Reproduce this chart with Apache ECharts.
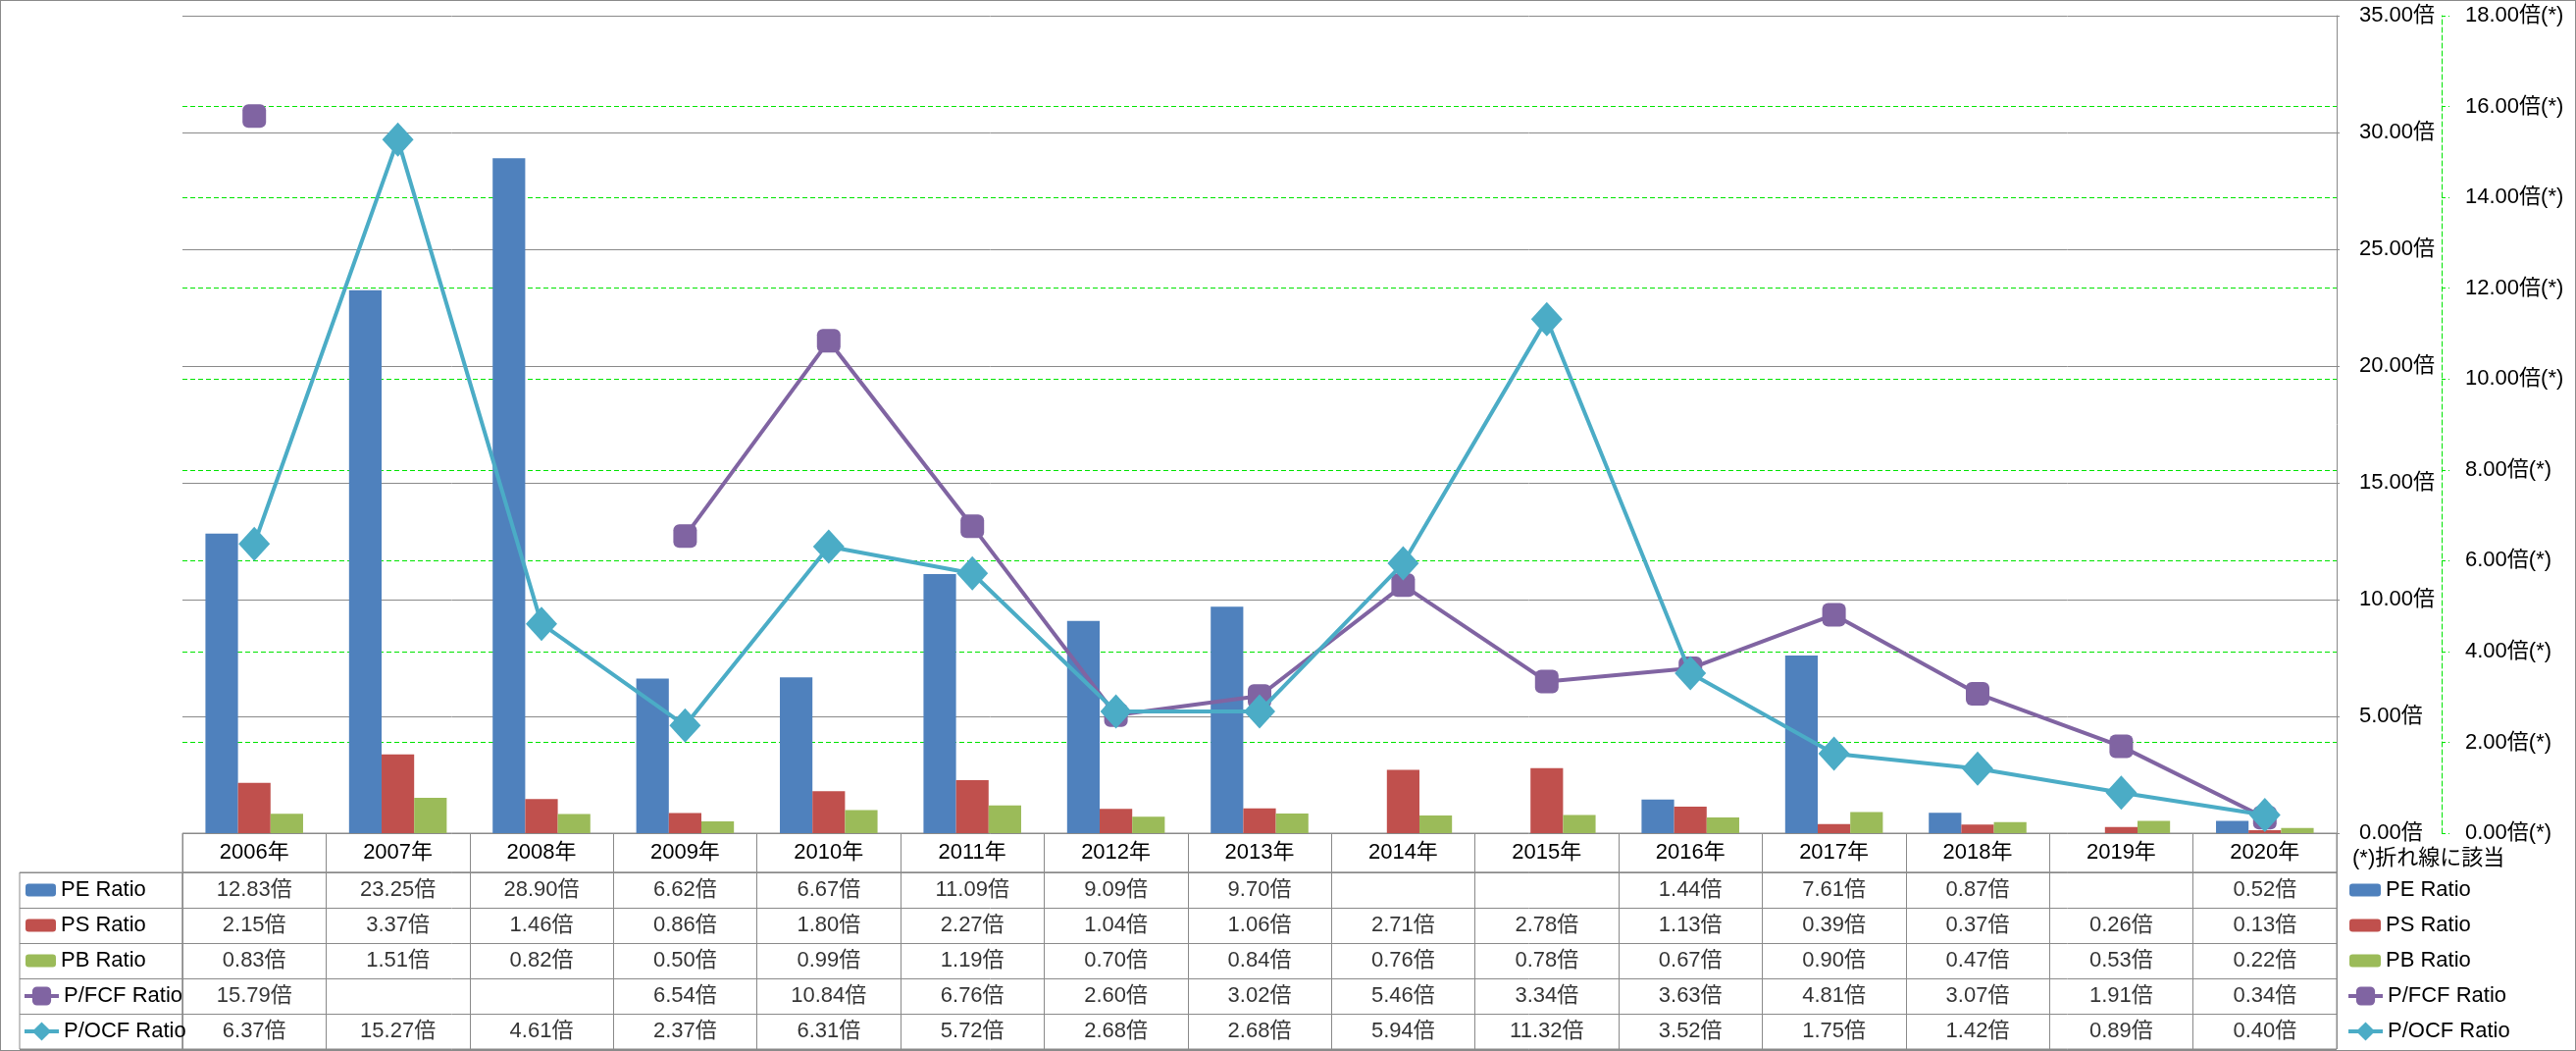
<!DOCTYPE html>
<html><head><meta charset="utf-8">
<script src="https://cdn.jsdelivr.net/npm/echarts@6/dist/echarts.min.js"></script>
<style>
html,body{margin:0;padding:0;background:#fff}
#c{width:2626px;height:1071px}
#frame{position:absolute;left:0;top:0;width:2624px;height:1069px;border:1px solid #8a8a8a;pointer-events:none}
</style>
</head><body><div id="c"></div><div id="frame"></div>
<script>
// ---- data ----
const years = ['2006年','2007年','2008年','2009年','2010年','2011年','2012年','2013年','2014年','2015年','2016年','2017年','2018年','2019年','2020年'];
const seriesNames = ['PE Ratio','PS Ratio','PB Ratio','P/FCF Ratio','P/OCF Ratio'];
const peRatio   = [12.83, 23.25, 28.90, 6.62, 6.67, 11.09, 9.09, 9.70, null, null, 1.44, 7.61, 0.87, null, 0.52];
const psRatio   = [2.15, 3.37, 1.46, 0.86, 1.80, 2.27, 1.04, 1.06, 2.71, 2.78, 1.13, 0.39, 0.37, 0.26, 0.13];
const pbRatio   = [0.83, 1.51, 0.82, 0.50, 0.99, 1.19, 0.70, 0.84, 0.76, 0.78, 0.67, 0.90, 0.47, 0.53, 0.22];
const pfcfRatio = [15.79, null, null, 6.54, 10.84, 6.76, 2.60, 3.02, 5.46, 3.34, 3.63, 4.81, 3.07, 1.91, 0.34];
const pocfRatio = [6.37, 15.27, 4.61, 2.37, 6.31, 5.72, 2.68, 2.68, 5.94, 11.32, 3.52, 1.75, 1.42, 0.89, 0.40];
const primaryAxis = {min: 0, max: 35, interval: 5, suffix: '倍'};
const secondaryAxis = {min: 0, max: 18, interval: 2, suffix: '倍(*)'};
const secondaryGridValues = [2, 4, 6, 8, 10, 12, 14, 16];
const noteText = '(*)折れ線に該当';

// ---- styles ----
const colors = ['#4F81BD', '#C0504D', '#9BBB59', '#8064A2', '#4BACC6'];
const FONT = '"Liberation Sans", "Noto Sans CJK JP", sans-serif';
const FS = 22;
const GRAY = '#8a8a8a';
const GREEN = '#00e400';
const rows = [peRatio, psRatio, pbRatio, pfcfRatio, pocfRatio];

const chart = echarts.init(document.getElementById('c'), null, {renderer: 'canvas'});

const series = [
  {name: 'secondaryGrid', type: 'line', xAxisIndex: 0, yAxisIndex: 1, data: [], z: 1, silent: true,
   markLine: {silent: true, z: 1, symbol: 'none', label: {show: false}, animation: false,
     lineStyle: {color: GREEN, type: [5, 3], width: 1},
     data: secondaryGridValues.map(v => ({yAxis: v}))}},
  {name: seriesNames[0], type: 'bar', xAxisIndex: 0, yAxisIndex: 0, data: peRatio, itemStyle: {color: colors[0]}, barGap: '0%', barCategoryGap: '32%'},
  {name: seriesNames[1], type: 'bar', xAxisIndex: 0, yAxisIndex: 0, data: psRatio, itemStyle: {color: colors[1]}},
  {name: seriesNames[2], type: 'bar', xAxisIndex: 0, yAxisIndex: 0, data: pbRatio, itemStyle: {color: colors[2]}},
  {name: seriesNames[3], type: 'line', xAxisIndex: 0, yAxisIndex: 1, data: pfcfRatio, symbol: 'roundRect', symbolSize: 24,
   itemStyle: {color: colors[3]}, lineStyle: {width: 4, color: colors[3]}, connectNulls: false, z: 5},
  {name: seriesNames[4], type: 'line', xAxisIndex: 0, yAxisIndex: 1, data: pocfRatio, symbol: 'diamond', symbolSize: [32, 35],
   itemStyle: {color: colors[4]}, lineStyle: {width: 4, color: colors[4]}, connectNulls: false, z: 6}
];
// table cells
rows.forEach((arr, r) => {
  const d = [];
  arr.forEach((v, i) => { if (v !== null) d.push([i, r, v]); });
  series.push({
    name: 'tbl' + r, type: 'scatter', xAxisIndex: 2, yAxisIndex: 3, data: d,
    symbolSize: 1, itemStyle: {color: 'rgba(0,0,0,0)'}, silent: true,
    label: {show: true, position: 'inside', color: '#000', fontSize: FS, fontFamily: FONT,
      formatter: p => p.value[2].toFixed(2) + '倍'}
  });
});

function legendOf(names, left, top, w, h, extra) {
  return Object.assign({
    orient: 'vertical', data: names, left: left, top: top, itemWidth: w, itemHeight: h, itemGap: 0, padding: 0,
    selectedMode: false, textStyle: {fontSize: FS, fontFamily: FONT, color: '#000', lineHeight: 36}
  }, extra || {});
}
const barNames = seriesNames.slice(0, 3), lineNames = seriesNames.slice(3);

const option = {
  animation: false,
  textStyle: {fontFamily: FONT},
  title: {text: noteText, left: 2398, top: 864, padding: 0,
    textStyle: {fontSize: FS, fontWeight: 'normal', color: '#000', fontFamily: FONT}},
  legend: [
    legendOf(barNames, 26, 889, 31, 13),
    legendOf(lineNames, 23, 997, 35, 24, {lineStyle: {width: 4}}),
    legendOf(barNames, 2395, 889, 32, 13),
    legendOf(lineNames, 2392, 997, 35, 24, {lineStyle: {width: 4}})
  ],
  grid: [
    {left: 186, right: 244, top: 16, height: 833, show: false},
    {left: 186, right: 244, top: 849, height: 40, show: true, borderColor: GRAY, borderWidth: 1},
    {left: 186, right: 244, top: 889, height: 180, show: true, borderColor: GRAY, borderWidth: 1},
    {left: 20, width: 166, top: 889, height: 180, show: true, borderColor: GRAY, borderWidth: 1}
  ],
  xAxis: [
    {gridIndex: 0, type: 'category', data: years, axisLabel: {show: false}, axisTick: {show: false},
     axisLine: {show: false}},
    {gridIndex: 1, type: 'category', data: years, position: 'top', axisTick: {show: false}, axisLine: {show: false},
     axisLabel: {inside: true, margin: 9, fontSize: FS, color: '#000', fontFamily: FONT, verticalAlign: 'top'},
     splitLine: {show: true, interval: 0, lineStyle: {color: GRAY}}},
    {gridIndex: 2, type: 'category', data: years, axisTick: {show: false}, axisLine: {show: false}, axisLabel: {show: false},
     splitLine: {show: true, interval: 0, lineStyle: {color: GRAY}}},
    {gridIndex: 3, type: 'value', show: false}
  ],
  yAxis: [
    {gridIndex: 0, type: 'value', position: 'right', min: primaryAxis.min, max: primaryAxis.max, interval: primaryAxis.interval,
     axisLine: {show: true, lineStyle: {color: GRAY, width: 1}}, axisTick: {show: true, length: 3, lineStyle: {color: GRAY}},
     axisLabel: {margin: 23, fontSize: FS, color: '#000', fontFamily: FONT, formatter: v => v.toFixed(2) + primaryAxis.suffix},
     splitLine: {show: true, lineStyle: {color: GRAY, width: 1}}},
    {gridIndex: 0, type: 'value', position: 'right', offset: 107, min: secondaryAxis.min, max: secondaryAxis.max, interval: secondaryAxis.interval,
     axisLine: {show: true, lineStyle: {color: GREEN, type: [5, 3], width: 1}},
     axisTick: {show: true, length: 8, lineStyle: {color: GREEN, type: [4, 3]}},
     axisLabel: {margin: 24, fontSize: FS, color: '#000', fontFamily: FONT, formatter: v => v.toFixed(2) + secondaryAxis.suffix},
     splitLine: {show: false}},
    {gridIndex: 1, type: 'value', show: false},
    {gridIndex: 2, type: 'category', data: seriesNames, inverse: true, axisLabel: {show: false}, axisTick: {show: false},
     axisLine: {show: false}, splitLine: {show: true, interval: 0, lineStyle: {color: GRAY}}},
    {gridIndex: 3, type: 'category', data: seriesNames, inverse: true, axisLabel: {show: false}, axisTick: {show: false},
     axisLine: {show: false}, splitLine: {show: true, interval: 0, lineStyle: {color: GRAY}}}
  ],
  series: series
};
chart.setOption(option);
</script>
</body></html>
